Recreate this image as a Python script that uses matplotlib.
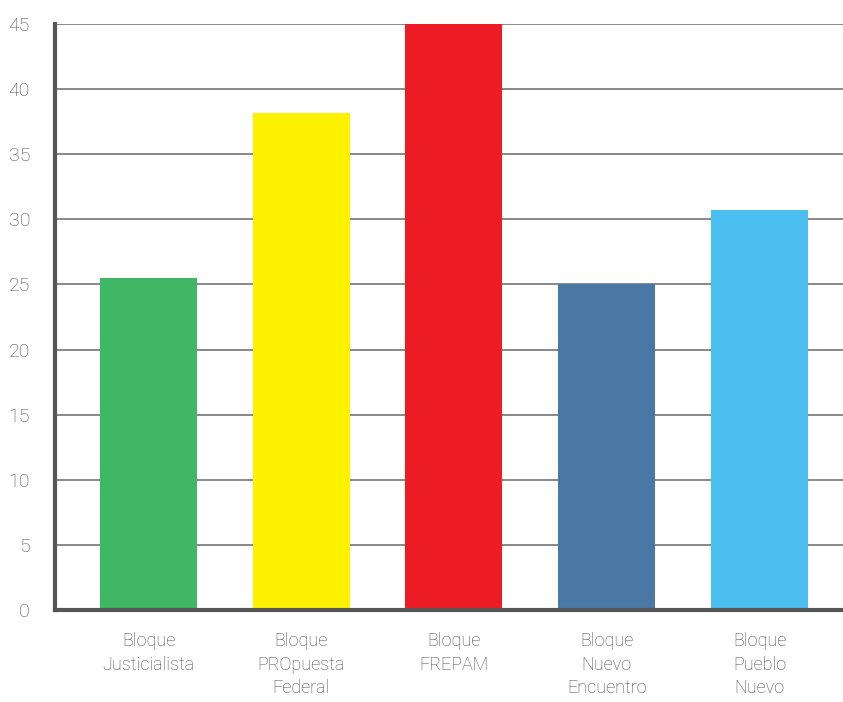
import matplotlib
matplotlib.use("Agg")
import matplotlib.pyplot as plt

# bloques y valores
categories = ["Bloque\nJusticialista", "Bloque\nPROpuesta\nFederal", "Bloque\nFREPAM",
              "Bloque\nNuevo\nEncuentro", "Bloque\nPueblo\nNuevo"]
values = [25.5, 38.2, 45.0, 25.0, 30.7]
colors = ["#3FB764", "#FFF200", "#ED1C24", "#4A78A4", "#4BBFF0"]
yticks = [0, 5, 10, 15, 20, 25, 30, 35, 40, 45]

plt.rcParams['font.family'] = ['Roboto', 'DejaVu Sans']

fig = plt.figure(figsize=(8.43, 7.02), dpi=100)
ax = fig.add_axes([55 / 843, (702 - 610) / 702, 1 - 55 / 843, (610 - 24) / 702])

x = list(range(len(categories)))
ax.bar(x, values, width=0.635, color=colors, zorder=3)

ax.set_ylim(0, 45)
ax.set_xlim(-0.612, 4.547)
ax.set_yticks(yticks)
ax.set_yticklabels([str(t) for t in yticks], fontsize=14, color="#4a4a4a", fontweight="light")
ax.set_xticks(x)
ax.set_xticklabels(categories, fontsize=13, color="#4a4a4a", fontweight="light", linespacing=1.4)
ax.tick_params(axis="both", length=0)
ax.tick_params(axis="y", pad=18)
ax.tick_params(axis="x", pad=16)

ax.yaxis.grid(True, color="#888888", linewidth=1.4, zorder=0)
ax.set_axisbelow(True)

for side in ["top", "right"]:
    ax.spines[side].set_visible(False)
for side in ["left", "bottom"]:
    ax.spines[side].set_color("#555555")
    ax.spines[side].set_linewidth(3)
    ax.spines[side].set_zorder(4)

fig.savefig("out.png", dpi=100)
